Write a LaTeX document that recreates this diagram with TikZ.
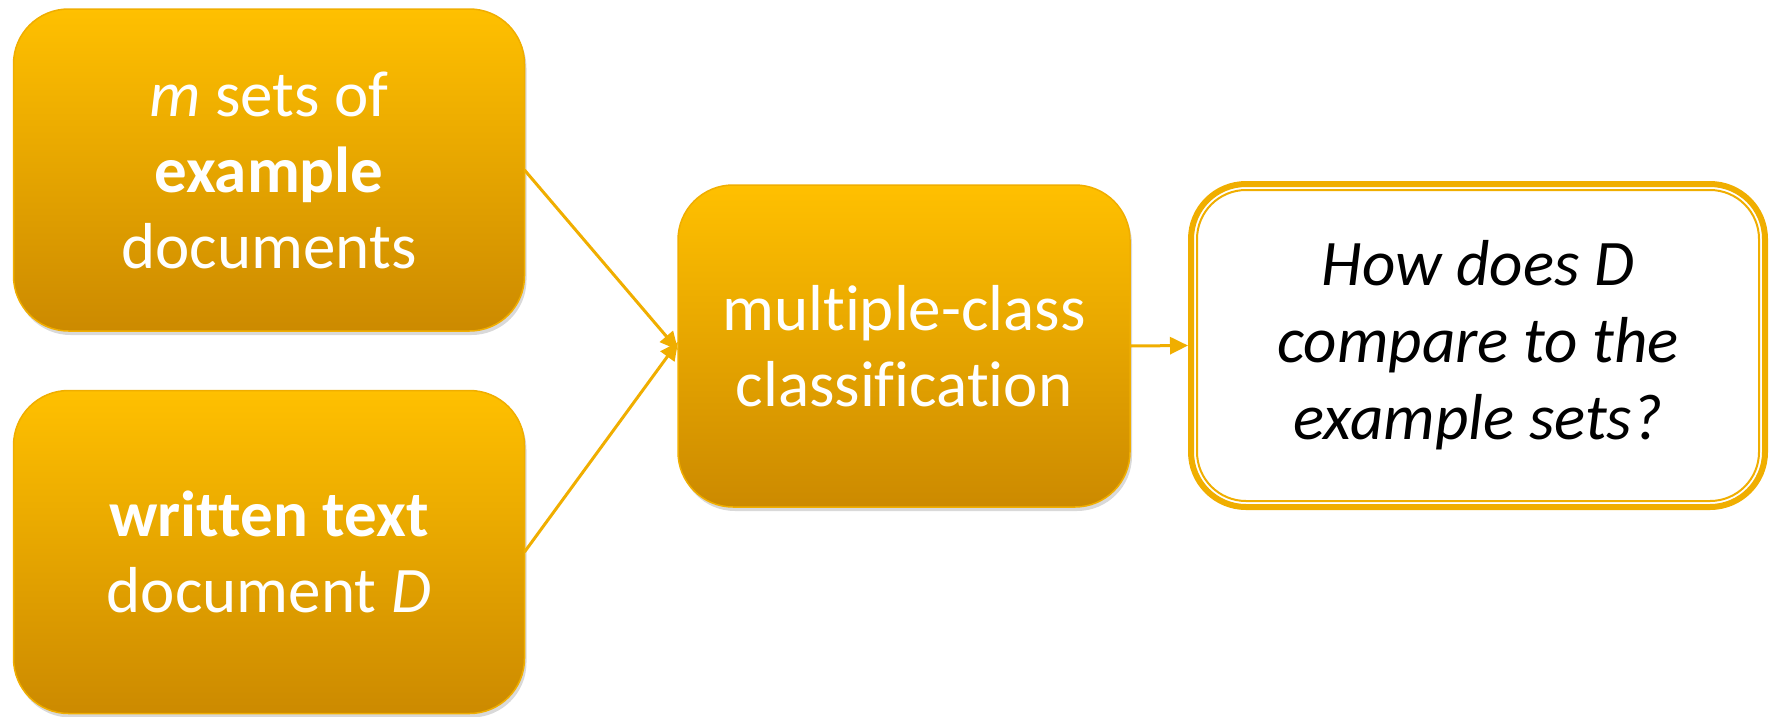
\documentclass[tikz,border=0pt]{standalone}
\usepackage{fontspec}
\setmainfont[Ligatures=NoCommon]{Carlito}
\usetikzlibrary{arrows.meta,positioning,shadows}
\definecolor{goldtop}{HTML}{FFC000}
\definecolor{goldbot}{HTML}{CC8A00}
\definecolor{goldline}{HTML}{F0AE00}
\tikzset{
  docbox/.style = {rectangle, rounded corners=55pt, align=center, inner sep=0pt,
    outer sep=0pt, top color=goldtop, bottom color=goldbot, draw=goldline,
    line width=1.5pt, text=white, font=\fontsize{65}{76}\selectfont,
    drop shadow={shadow xshift=2pt, shadow yshift=-4pt, opacity=0.3}},
  askbox/.style = {rectangle, rounded corners=55pt, align=center, inner sep=0pt,
    outer sep=0pt, draw=goldline, line width=6pt, fill=white,
    font=\fontsize{65}{77}\selectfont\itshape},
  flow/.style = {-{Triangle[length=18pt,width=17pt]}, goldline, line width=3pt}
}
\begin{document}
\begin{tikzpicture}[x=1pt,y=-1pt]
\useasboundingbox (0,0) rectangle (1777,716);
\node [docbox, minimum width=511pt, minimum height=322pt] (sets) at (269,170)
  {\textit{m} sets of\\\textbf{example}\\documents};
\node [docbox, minimum width=511pt, minimum height=323pt] (doc) at (269,552)
  {\textbf{written text}\\document \textit{D}};
\node [docbox, minimum width=452pt, minimum height=322pt] (clf) at (904,346)
  {multiple-class\\classification};
\node [askbox, minimum width=574pt, minimum height=323pt] (cmp) at (1478,345.5)
  {How does D\\compare to the\\example sets?};
\draw [goldline, line width=2pt, rounded corners=49pt]
  ([shift={(6pt,-6pt)}]cmp.north west) rectangle ([shift={(-6pt,6pt)}]cmp.south east);
% connectors
\draw [flow] (sets.east) -- ([yshift=-4pt]clf.west);
\draw [flow] (doc.east) -- ([yshift=4pt]clf.west);
\draw [flow] (clf.east) -- ([xshift=-3pt]cmp.west);
\end{tikzpicture}
\end{document}
